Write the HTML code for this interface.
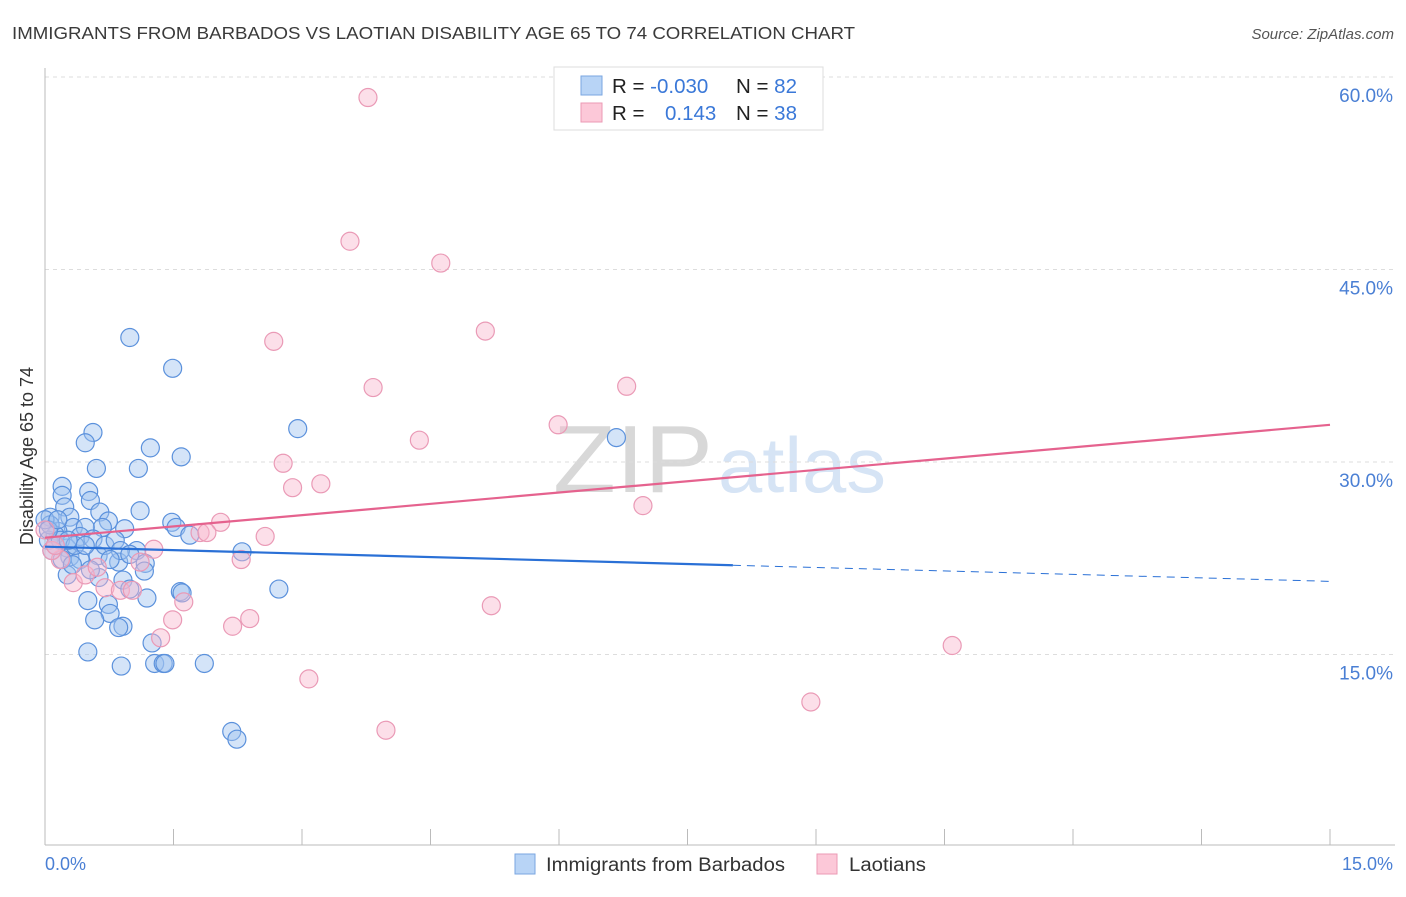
<!DOCTYPE html>
<html><head><meta charset="utf-8"><style>
body{margin:0;background:#fff;font-family:"Liberation Sans",sans-serif;}
svg text{font-family:"Liberation Sans",sans-serif;}
</style></head><body>
<svg id="chart" width="1406" height="892" xmlns="http://www.w3.org/2000/svg">
<text x="12" y="39" font-size="17.5" fill="#3a3a3a" textLength="843" lengthAdjust="spacingAndGlyphs">IMMIGRANTS FROM BARBADOS VS LAOTIAN DISABILITY AGE 65 TO 74 CORRELATION CHART</text>
<text x="1394" y="39" font-size="15" fill="#555" text-anchor="end" font-style="italic">Source: ZipAtlas.com</text>
<g>
<text x="553" y="492" font-size="96" fill="#d8d8d8" font-family="Liberation Serif,serif" textLength="160" lengthAdjust="spacingAndGlyphs">ZIP</text>
<text x="718" y="492" font-size="78" fill="#d6e4f5" textLength="168" lengthAdjust="spacingAndGlyphs">atlas</text>
</g>
<g id="grid"></g>
<line x1="45" y1="68" x2="45" y2="845" stroke="#bbb" stroke-width="1"/>
<line x1="45" y1="845" x2="1395" y2="845" stroke="#bbb" stroke-width="1"/>
<g id="ticks"></g>
<g id="ylabels"></g>
<text x="45" y="870" font-size="18" fill="#4a7fd4">0.0%</text>
<text x="1393" y="870" font-size="18" fill="#4a7fd4" text-anchor="end">15.0%</text>
<text transform="translate(33,456) rotate(-90)" font-size="18" fill="#333" text-anchor="middle">Disability Age 65 to 74</text>
<g id="points"></g>
<g id="lines"></g>
<g>
<rect x="554" y="67" width="269" height="63" fill="#fff" stroke="#ddd"/>
<rect x="581" y="76" width="21" height="19" fill="#b8d4f6" stroke="#7aa6e0"/>
<rect x="581" y="103" width="21" height="19" fill="#fcc8d8" stroke="#eb9ab4"/>
<text x="612" y="93" font-size="20.5" fill="#222">R = <tspan fill="#3a78d8">-0.030</tspan></text>
<text x="736" y="93" font-size="20.5" fill="#222">N = <tspan fill="#3a78d8">82</tspan></text>
<text x="612" y="120" font-size="20.5" fill="#222">R = <tspan fill="#3a78d8" x="665">0.143</tspan></text>
<text x="736" y="120" font-size="20.5" fill="#222">N = <tspan fill="#3a78d8">38</tspan></text>
</g>
<g>
<rect x="515" y="854" width="20" height="20" fill="#b8d4f6" stroke="#7aa6e0"/>
<text x="546" y="871" font-size="19" fill="#333" textLength="239" lengthAdjust="spacingAndGlyphs">Immigrants from Barbados</text>
<rect x="817" y="854" width="20" height="20" fill="#fcc8d8" stroke="#eb9ab4"/>
<text x="849" y="871" font-size="19" fill="#333" textLength="77" lengthAdjust="spacingAndGlyphs">Laotians</text>
</g>
</svg>
<script>
const yTicks=[15,30,45,60];
const yTickLabels=["15.0%","30.0%","45.0%","60.0%"];
const xTicks=[0,1.5,3,4.5,6,7.5,9,10.5,12,13.5,15];
const blueX=[0.99,1.49,0.56,0.47,1.23,1.59,0.60,1.09,2.95,6.67,0.20,0.51,0.20,0.53,1.11,0.23,0.29,0.06,0.64,0.74,1.48,1.53,0.67,0.93,0.33,0.47,0.15,0.41,1.69,0.56,0.12,0.04,0.12,0.26,2.30,1.07,0.62,0.29,0.41,0.86,1.17,1.16,0.26,0.63,0.91,0.99,1.58,1.60,1.19,0.74,0.50,2.73,0.76,0.58,0.91,0.86,1.25,0.50,0.89,1.28,1.38,1.40,1.86,2.18,2.24,0.06,0.00,0.18,0.35,0.08,0.04,0.15,0.27,0.47,0.70,0.82,0.88,0.20,0.32,0.53,0.76,0.99];
const blueY=[39.7,37.3,32.3,31.5,31.1,30.4,29.5,29.5,32.6,31.9,28.1,27.7,27.4,27.0,26.2,26.5,25.7,25.7,26.1,25.4,25.3,24.9,24.9,24.8,24.9,24.9,24.6,24.2,24.3,24.0,24.3,23.9,23.5,23.3,23.0,23.1,22.7,22.6,22.4,22.2,22.1,21.5,21.2,21.0,20.8,20.1,19.9,19.8,19.4,18.9,19.2,20.1,18.2,17.7,17.2,17.1,15.9,15.2,14.1,14.3,14.3,14.3,14.3,9.0,8.4,25.1,25.5,23.9,23.5,23.1,24.7,25.5,23.9,23.5,23.5,23.9,23.1,22.4,22.0,21.6,22.4,22.8];
const pinkX=[3.77,3.56,4.62,5.14,2.67,3.83,6.79,5.99,4.37,2.78,2.89,3.22,6.98,2.05,1.81,1.89,2.57,1.27,1.11,2.29,0.18,0.08,0.00,0.33,0.47,0.61,0.70,0.88,1.62,1.02,1.49,1.35,2.19,2.39,5.21,10.59,3.08,8.94,3.98,0.12];
const pinkY=[58.4,47.2,45.5,40.2,39.4,35.8,35.9,32.9,31.7,29.9,28.0,28.3,26.6,25.3,24.5,24.5,24.2,23.2,22.2,22.4,22.4,23.1,24.7,20.6,21.2,21.8,20.2,20.0,19.1,20.0,17.7,16.3,17.2,17.8,18.8,15.7,13.1,11.3,9.1,23.5];
const blueTrend=[23.4,20.7];
const blueSolidEnd=8.03;
const pinkTrend=[24.1,32.9];
const NS="http://www.w3.org/2000/svg";
const X=v=>45+v/15*1285;
const Y=v=>847-v/60*770;
function mk(tag,attrs,parent){const e=document.createElementNS(NS,tag);for(const k in attrs)e.setAttribute(k,attrs[k]);parent.appendChild(e);return e;}
const grid=document.getElementById('grid');
yTicks.forEach((t,i)=>{
  const l=mk('line',{x1:45,x2:1395,y1:Y(t),y2:Y(t),stroke:'#ddd','stroke-dasharray':'4,4'},grid);
  
  
  const tx=mk('text',{x:1393,y:Y(t)+25,'font-size':19,fill:'#4a7fd4','text-anchor':'end'},document.getElementById('ylabels'));
  tx.textContent=yTickLabels[i];
  
  
});
const tk=document.getElementById('ticks');
xTicks.forEach(t=>{
  const l=mk('line',{x1:X(t),x2:X(t),y1:829,y2:845,stroke:'#bbb'},tk);
  
  
});
const pts=document.getElementById('points');


blueX.forEach((x,i)=>{
  const c=mk('circle',{cx:X(x),cy:Y(blueY[i]),r:9,fill:'rgba(160,196,240,0.45)',stroke:'#5b91dc','stroke-width':1.2},pts);
  
  
});
pinkX.forEach((x,i)=>{
  const c=mk('circle',{cx:X(x),cy:Y(pinkY[i]),r:9,fill:'rgba(248,184,206,0.45)',stroke:'#ea9ab6','stroke-width':1.2},pts);
  
  
});
const ln=document.getElementById('lines');
const bAt=x=>blueTrend[0]+(blueTrend[1]-blueTrend[0])*x/15;
const b1=mk('line',{x1:X(0),y1:Y(bAt(0)),x2:X(blueSolidEnd),y2:Y(bAt(blueSolidEnd)),stroke:'#2a70d6','stroke-width':2.2},ln);


const b2=mk('line',{x1:X(blueSolidEnd),y1:Y(bAt(blueSolidEnd)),x2:X(15),y2:Y(bAt(15)),stroke:'#2a70d6','stroke-width':1,'stroke-dasharray':'8,6'},ln);


const p1=mk('line',{x1:X(0),y1:Y(pinkTrend[0]),x2:X(15),y2:Y(pinkTrend[1]),stroke:'#e5628e','stroke-width':2.2},ln);


</script>
</body></html>
